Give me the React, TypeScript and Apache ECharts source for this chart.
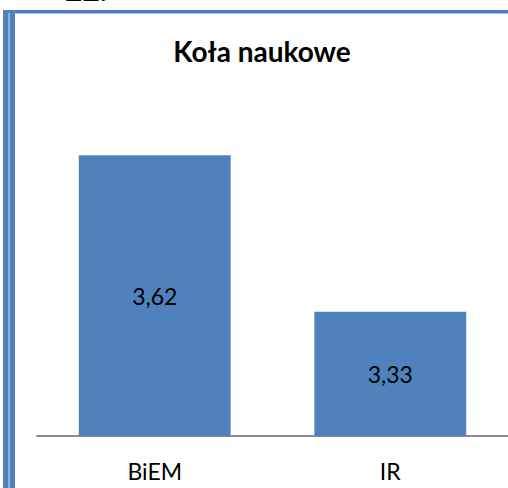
import React, { useEffect, useRef } from "react";
import * as echarts from "echarts";

const categories = ["BiEM", "IR"];
const values = [3.62, 3.33];
const axisMin = 3.1;
const axisMax = 3.7;
const titleText = "Koła naukowe";
const pageNumber = "22.";

export default function App() {
  const ref = useRef<HTMLDivElement>(null);
  useEffect(() => {
    if (!ref.current) return;
    const chart = echarts.init(ref.current, undefined, { renderer: "svg" });
    const font = "Lato, 'Noto Sans', sans-serif";
    chart.setOption({
      animation: false,
      grid: { left: 37, right: 0, top: 112, bottom: 52 },
      xAxis: {
        type: "category",
        data: categories,
        axisLine: { show: true, lineStyle: { color: "#8c8c8c", width: 2 } },
        axisTick: { show: false },
        axisLabel: { color: "#000", fontSize: 23, fontFamily: font, margin: 23 },
      },
      yAxis: {
        type: "value",
        min: axisMin,
        max: axisMax,
        show: false,
        splitLine: { show: false },
      },
      series: [
        {
          type: "bar",
          data: values,
          barCategoryGap: "35.5%",
          itemStyle: { color: "#4F81BD" },
          label: {
            show: true,
            position: "inside",
            color: "#000",
            fontSize: 23,
            fontFamily: font,
            formatter: (p: any) => String(p.value).replace(".", ","),
          },
        },
      ],
      graphic: [
        { type: "rect", shape: { x: 3, y: 10, width: 505, height: 3 }, style: { fill: "#4F81BD" } },
        { type: "rect", shape: { x: 14, y: 13, width: 494, height: 1 }, style: { fill: "#A7C0DE" } },
        { type: "rect", shape: { x: 3, y: 10, width: 5, height: 478 }, style: { fill: "#4F81BD" } },
        { type: "rect", shape: { x: 8, y: 13, width: 2, height: 475 }, style: { fill: "#8FB0D8" } },
        { type: "rect", shape: { x: 10, y: 13, width: 5, height: 475 }, style: { fill: "#4F81BD" } },
        {
          type: "text",
          x: 262,
          y: 51,
          style: {
            text: titleText,
            fill: "#000",
            font: `bold 28px ${font}`,
            textAlign: "center",
            textVerticalAlign: "middle",
          },
        },
        {
          type: "text",
          x: 65,
          y: 4,
          style: {
            text: pageNumber,
            fill: "#000",
            font: `bold 30px ${font}`,
            textAlign: "left",
            textVerticalAlign: "bottom",
          },
        },
      ],
    });
    return () => chart.dispose();
  }, []);
  return <div ref={ref} style={{ width: 508, height: 488, position: "absolute", left: 0, top: 0 }} />;
}
